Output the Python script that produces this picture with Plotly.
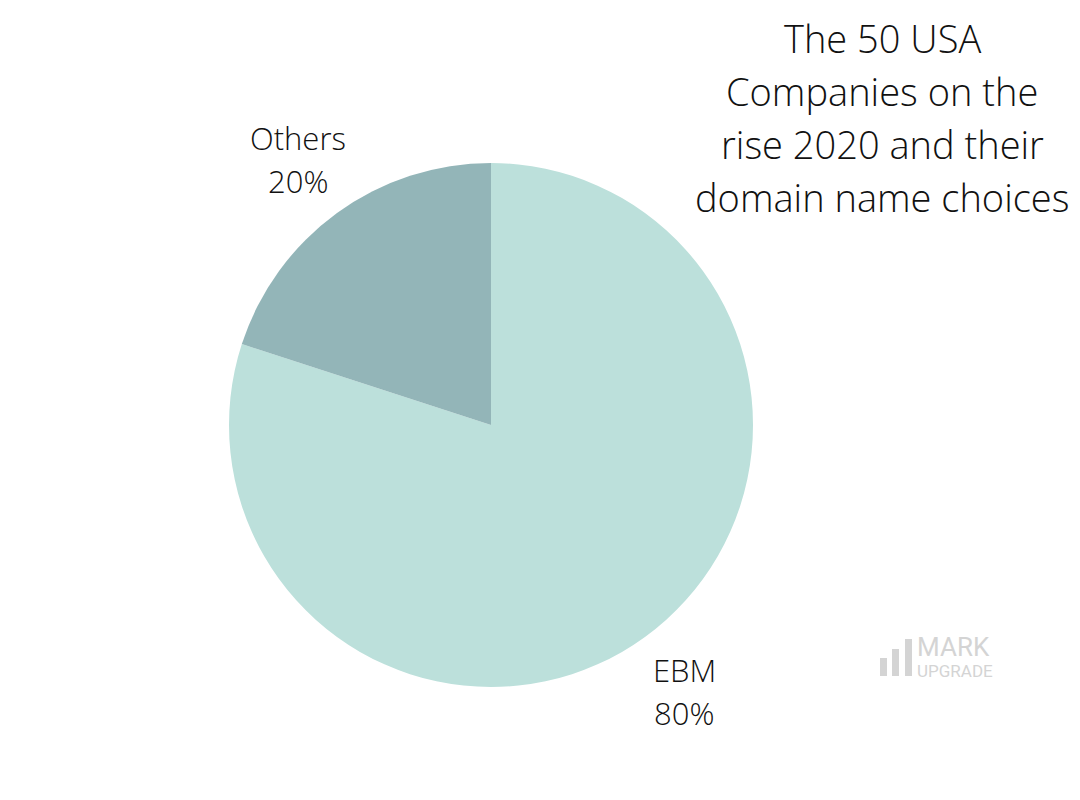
import math
import plotly.graph_objects as go

labels = ["EBM", "Others"]
values = [80, 20]
colors = ["#BCE0DB", "#93B5B8"]
title_lines = ["The 50 USA", "Companies on the", "rise 2020 and their", "domain name choices"]

OFF = 8  # page body margin in the browser
W, H = 1080 - 2 * OFF, 800 - 2 * OFF
cx, cy, r = 491 - OFF, 425 - OFF, 262  # pixel geometry of the pie
dom_x = [(cx - r) / W, (cx + r) / W]
dom_y = [1 - (cy + r) / H, 1 - (cy - r) / H]


def px(x):
    return (x - OFF) / W


def py(y):
    return 1 - (y - OFF) / H


FONT = "Open Sans"
TXT = "#111111"

fig = go.Figure(go.Pie(
    labels=labels, values=values, sort=False, direction="clockwise", rotation=0,
    marker=dict(colors=colors, line=dict(width=0)),
    textinfo="none", hoverinfo="skip", showlegend=False,
    domain=dict(x=dom_x, y=dom_y),
))

annotations = []
total = sum(values)
cum = 0
for lab, v in zip(labels, values):
    mid = (cum + v / 2) / total * 2 * math.pi
    cum += v
    dx = math.sin(mid) * r * 1.255
    dy = math.cos(mid) * r * 1.255
    ax = (cx + dx) / W
    ay = 1 - (cy - dy) / H
    for txt, shift in [(lab, 21), (f"{round(v / total * 100)}%", -22)]:
        annotations.append(dict(
            x=ax, y=ay, xref="paper", yref="paper", text=txt, showarrow=False,
            yshift=shift, xanchor="center", yanchor="middle",
            font=dict(family=FONT, size=31, color=TXT, weight=300),
        ))

for i, line in enumerate(title_lines):
    annotations.append(dict(
        x=px(882), y=py(38 + i * 53), xref="paper", yref="paper", text=line,
        showarrow=False, xanchor="center", yanchor="middle",
        font=dict(family=FONT, size=38, color=TXT, weight=300),
    ))

# watermark logo
LOGO = "#d4d4d4"
shapes = []
for x0, x1, y0 in [(880, 887, 658), (892, 899, 649), (905, 912, 639)]:
    shapes.append(dict(type="rect", xref="paper", yref="paper",
                       x0=px(x0), x1=px(x1), y0=py(676), y1=py(y0),
                       fillcolor=LOGO, line=dict(width=0)))
annotations.append(dict(x=px(915), y=py(647), xref="paper", yref="paper", text="MARK",
                        showarrow=False, xanchor="left", yanchor="middle",
                        font=dict(family="Roboto", size=26, color=LOGO, weight=400)))
annotations.append(dict(x=px(915), y=py(671), xref="paper", yref="paper", text="UPGRADE",
                        showarrow=False, xanchor="left", yanchor="middle",
                        font=dict(family="Roboto", size=17, color=LOGO, weight=400)))

fig.update_layout(
    width=W, height=H, margin=dict(l=0, r=0, t=0, b=0),
    paper_bgcolor="white", plot_bgcolor="white",
    annotations=annotations, shapes=shapes,
)
fig.write_html("out.html")
